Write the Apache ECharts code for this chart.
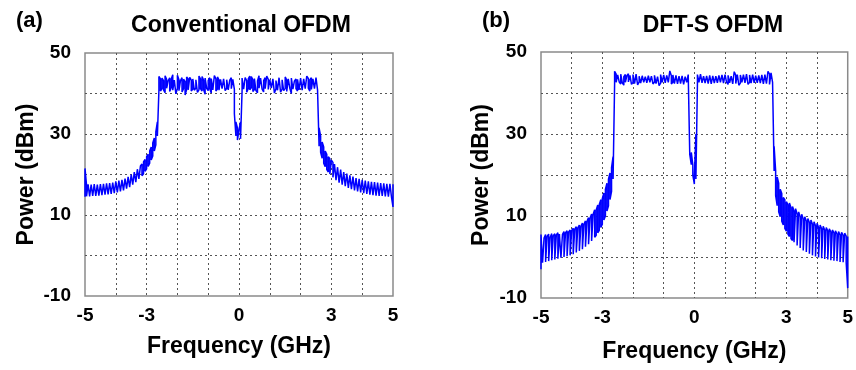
<!DOCTYPE html>
<html>
<head>
<meta charset="utf-8">
<script src="https://cdn.jsdelivr.net/npm/echarts@6/dist/echarts.min.js"></script>
<style>
html,body{margin:0;padding:0;background:#fff;}
#chart{width:856px;height:370px;}
</style>
</head>
<body>
<div id="chart"></div>
<script>
// Frequency samples (GHz)
const freq = [
-5,-4.95,-4.9,-4.85,-4.8,-4.75,-4.7,-4.65,-4.6,-4.55,
-4.5,-4.45,-4.4,-4.35,-4.3,-4.25,-4.2,-4.15,-4.1,-4.05,
-4,-3.95,-3.9,-3.85,-3.8,-3.75,-3.7,-3.65,-3.6,-3.55,
-3.5,-3.45,-3.4,-3.35,-3.3,-3.25,-3.2,-3.15,-3.1,-3.05,
-3,-2.95,-2.9,-2.85,-2.8,-2.75,-2.7,-2.65,-2.6,-2.55,
-2.5,-2.45,-2.4,-2.35,-2.3,-2.25,-2.2,-2.15,-2.1,-2.05,
-2,-1.95,-1.9,-1.85,-1.8,-1.75,-1.7,-1.65,-1.6,-1.55,
-1.5,-1.45,-1.4,-1.35,-1.3,-1.25,-1.2,-1.15,-1.1,-1.05,
-1,-0.95,-0.9,-0.85,-0.8,-0.75,-0.7,-0.65,-0.6,-0.55,
-0.5,-0.45,-0.4,-0.35,-0.3,-0.25,-0.2,-0.15,-0.1,-0.05,
0,0.05,0.1,0.15,0.2,0.25,0.3,0.35,0.4,0.45,
0.5,0.55,0.6,0.65,0.7,0.75,0.8,0.85,0.9,0.95,
1,1.05,1.1,1.15,1.2,1.25,1.3,1.35,1.4,1.45,
1.5,1.55,1.6,1.65,1.7,1.75,1.8,1.85,1.9,1.95,
2,2.05,2.1,2.15,2.2,2.25,2.3,2.35,2.4,2.45,
2.5,2.55,2.6,2.65,2.7,2.75,2.8,2.85,2.9,2.95,
3,3.05,3.1,3.15,3.2,3.25,3.3,3.35,3.4,3.45,
3.5,3.55,3.6,3.65,3.7,3.75,3.8,3.85,3.9,3.95,
4,4.05,4.1,4.15,4.2,4.25,4.3,4.35,4.4,4.45,
4.5,4.55,4.6,4.65,4.7,4.75,4.8,4.85,4.9,4.95,
5
];

// (a) Conventional OFDM: upper / lower trace excursion at each frequency (dBm)
const convUpper = [
21.5,17.4,17.6,17.3,17.5,17.2,17.6,17.4,17.5,17.3,
17.6,17.5,17.7,17.5,17.8,17.6,17.9,17.7,18.0,17.9,
18.3,18.2,18.5,18.4,18.7,18.8,19.0,19.1,19.4,19.6,
20.0,20.3,20.6,21.0,21.3,21.7,22.1,22.6,23.1,23.7,
24.4,25.0,25.8,26.8,27.8,29.0,30.5,33.0,44.2,43.6,
43.8,43.2,44.4,43.5,43.1,43.9,43.6,44.6,43.3,43.7,
44.5,43.4,43.2,43.9,43.5,43.0,44.1,43.6,44.0,43.3,
43.6,43.9,43.4,43.1,44.3,43.6,44.2,43.3,43.8,43.5,
43.2,43.9,43.7,43.4,44.4,43.6,44.1,43.3,43.5,43.9,
43.6,44.0,43.4,43.8,43.3,43.9,43.5,41.0,33.0,31.5,
31.0,33.0,43.8,43.5,43.9,43.2,43.6,44.3,44.2,43.4,
43.7,43.5,43.1,44.4,43.8,43.6,43.2,43.9,44.3,43.5,
43.4,43.8,43.6,43.9,43.2,43.5,43.9,44.0,43.4,43.7,
44.1,43.3,43.6,43.5,43.8,44.2,43.1,43.6,43.5,43.8,
43.8,43.4,43.6,43.3,44.3,43.7,43.4,43.9,43.6,43.5,
43.9,43.6,31.5,29.5,28.0,26.8,25.8,25.0,24.4,23.9,
23.5,23.0,22.6,22.2,21.8,21.5,21.2,20.9,20.6,20.4,
20.2,20.0,19.8,19.6,19.5,19.3,19.1,19.0,18.9,18.8,
18.7,18.6,18.5,18.4,18.3,18.3,18.2,18.1,18.1,18.0,
18.0,17.9,17.9,17.8,17.8,17.8,17.7,17.7,17.7,17.6,
17.6
];
const convLower = [
14.5,14.6,14.5,14.6,14.6,14.7,14.6,14.7,14.7,14.8,
14.8,14.9,14.9,15.0,15.0,15.1,15.1,15.2,15.3,15.4,
15.5,15.6,15.7,15.8,16.0,16.1,16.3,16.5,16.7,16.9,
17.2,17.5,17.8,18.1,18.5,18.9,19.3,19.7,20.2,20.8,
21.4,22.0,22.8,23.6,24.6,25.8,27.3,29.5,40.8,40.6,
41.2,40.9,40.2,41.3,41.0,40.5,41.4,40.8,41.1,39.9,
41.3,40.7,41.1,40.4,41.2,39.6,41.0,40.9,41.3,40.6,
41.1,40.8,41.4,40.3,40.9,41.2,40.6,41.0,39.8,41.3,
40.7,41.2,40.1,40.9,41.3,40.6,41.1,40.8,40.4,41.2,
41.0,40.7,41.3,40.9,40.5,41.2,40.8,35.0,29.5,28.5,
28.2,28.8,40.6,41.1,40.8,40.3,41.2,40.9,41.4,40.5,
41.0,40.7,40.2,41.3,40.9,41.1,40.4,41.2,40.8,41.0,
40.6,41.3,40.9,40.1,41.2,40.8,41.0,40.3,41.1,40.7,
41.2,40.5,40.9,41.3,40.0,41.1,40.8,41.2,40.6,40.9,
41.1,40.8,40.4,41.2,40.9,41.3,40.6,41.0,40.7,41.2,
40.8,40.9,27.0,25.5,24.0,22.8,21.9,21.2,20.6,20.1,
19.7,19.3,18.9,18.6,18.3,18.0,17.7,17.5,17.3,17.1,
16.9,16.7,16.5,16.4,16.2,16.1,15.9,15.8,15.7,15.6,
15.5,15.4,15.3,15.2,15.1,15.0,15.0,14.9,14.9,14.8,
14.8,14.7,14.7,14.7,14.6,14.6,14.6,14.5,14.5,14.5,
12.0
];

// (b) DFT-S OFDM: upper / lower trace excursion at each frequency (dBm)
const dftUpper = [
5.5,5.3,4.6,5.5,5.0,5.6,4.8,5.7,5.2,5.7,
5.4,5.9,5.6,6.0,5.5,6.2,5.9,6.4,6.1,6.6,
6.5,7.0,6.8,7.4,7.1,7.8,7.5,8.3,8.0,8.8,
8.7,9.6,9.5,10.5,10.4,11.5,11.5,12.7,12.8,14.0,
14.3,15.6,16.5,18.0,19.0,20.5,21.8,24.5,45.3,44.6,
44.4,44.1,44.6,44.3,44.0,44.5,44.2,44.7,44.3,44.1,
44.5,44.2,44.6,44.3,44.1,44.4,44.2,44.5,44.0,44.3,
44.2,44.5,44.1,44.4,44.3,44.6,44.0,44.3,44.5,44.2,
44.4,44.1,44.3,44.6,45.4,44.2,44.4,44.1,44.3,44.5,
44.1,44.4,44.2,44.5,44.0,44.3,44.5,44.2,25.5,22.5,
19.5,30.0,44.5,44.2,44.6,44.3,44.1,44.5,44.2,44.4,
44.3,44.6,44.2,44.4,44.1,44.5,44.3,44.0,44.4,44.2,
44.5,44.2,44.3,44.6,44.1,44.4,45.2,44.3,44.5,44.2,
44.4,44.1,44.5,44.3,44.6,44.2,44.4,44.0,44.5,44.3,
44.2,44.6,44.3,44.5,44.4,44.7,44.5,44.8,45.3,44.6,
44.9,44.7,27.0,21.0,19.5,18.0,16.5,15.5,14.5,14.0,
13.5,12.8,13.2,12.0,12.3,11.2,11.8,10.5,11.0,9.8,
10.4,9.3,9.8,8.8,9.4,8.4,9.0,8.0,8.6,7.6,
8.2,7.2,7.8,6.9,7.5,6.6,7.2,6.4,6.9,6.1,
6.6,5.9,6.4,5.6,6.2,5.4,6.0,5.3,5.8,5.1,
5.0
];
const dftLower = [
-3.0,-1.4,-1.3,-1.2,-1.1,-1.0,-0.9,-0.8,-0.7,-0.6,
-0.5,-0.4,-0.3,-0.2,-0.1,0.0,0.1,0.2,0.3,0.4,
0.5,0.7,0.9,1.1,1.3,1.5,1.7,1.9,2.2,2.5,
2.8,3.1,3.5,3.9,4.3,4.8,5.3,5.9,6.5,7.2,
8.0,9.0,10.0,11.2,12.5,14.0,16.0,19.0,42.3,42.6,
42.4,42.7,42.2,42.5,41.9,42.6,42.3,42.7,42.4,42.1,
42.6,42.3,42.5,42.0,42.7,42.4,42.2,42.6,42.3,42.5,
42.1,42.6,42.4,42.2,42.7,42.3,42.5,41.8,42.4,42.6,
42.3,42.5,42.1,42.6,42.4,42.2,42.7,42.3,42.5,42.2,
42.6,42.3,42.5,42.1,42.4,42.6,42.2,25.0,22.5,20.0,
17.8,19.0,42.2,42.6,42.3,42.5,42.1,42.4,42.6,42.3,
42.5,42.2,42.6,42.4,42.1,42.5,42.3,42.6,42.2,42.4,
42.3,42.6,42.1,42.5,42.4,42.2,42.6,42.3,42.5,41.9,
42.4,42.6,42.2,42.5,42.3,42.1,42.6,42.4,42.2,42.5,
42.3,42.5,42.1,42.4,42.6,42.2,42.4,42.3,42.5,42.1,
42.4,42.6,21.0,15.0,12.5,11.0,9.8,8.7,7.8,7.0,
6.3,5.6,5.0,4.5,4.0,3.6,3.2,2.8,2.5,2.2,
1.9,1.6,1.4,1.2,1.0,0.8,0.6,0.4,0.3,0.1,
0.0,-0.1,-0.2,-0.3,-0.4,-0.5,-0.6,-0.6,-0.7,-0.8,
-0.8,-0.9,-1.0,-1.0,-1.1,-1.2,-1.2,-1.3,-1.4,-1.4,
-7.6
];

const xTickLabels = [-5, -3, 0, 3, 5];
const yTickLabels = [50, 30, 10, -10];
const panelTitles = ['Conventional OFDM', 'DFT-S OFDM'];
const panelTags = ['(a)', '(b)'];

// The trace swings between its lower and upper excursion at each sample
function trace(upper, lower) {
  const out = [];
  freq.forEach((f, i) => {
    if (i % 2 === 0) { out.push([f, lower[i]], [f, upper[i]]); }
    else { out.push([f, upper[i]], [f, lower[i]]); }
  });
  return out;
}

const FONT = '"Liberation Sans", Arial, sans-serif';
const chart = echarts.init(document.getElementById('chart'), null, {renderer: 'canvas'});

function xAxisFor(gridIndex) {
  return {
    type: 'value', gridIndex, min: -5, max: 5, interval: 1,
    axisLine: {show: false}, axisTick: {show: false},
    splitLine: {show: true, showMinLine: false, showMaxLine: false,
      lineStyle: {color: '#555', width: 1, type: [2, 3]}},
    axisLabel: {
      margin: 10, color: '#000', fontFamily: FONT, fontWeight: 'bold', fontSize: 19,
      showMinLabel: true, showMaxLabel: true,
      formatter: v => xTickLabels.includes(Math.round(v * 100) / 100) ? String(v) : ''
    },
    name: 'Frequency (GHz)', nameLocation: 'middle',
    nameGap: gridIndex === 0 ? 39 : 42,
    nameTextStyle: {color: '#000', fontFamily: FONT, fontWeight: 'bold', fontSize: 23}
  };
}
function yAxisFor(gridIndex) {
  return {
    type: 'value', gridIndex, min: -10, max: 50, interval: 10,
    axisLine: {show: false}, axisTick: {show: false},
    splitLine: {show: true, showMinLine: false, showMaxLine: false,
      lineStyle: {color: '#555', width: 1, type: [2, 3]}},
    axisLabel: {
      margin: 14, color: '#000', fontFamily: FONT, fontWeight: 'bold', fontSize: 19,
      formatter: v => yTickLabels.includes(v) ? String(v) : ''
    },
    name: 'Power (dBm)', nameLocation: 'middle', nameRotate: 90,
    nameGap: gridIndex === 0 ? 47 : 48,
    nameTextStyle: {color: '#000', fontFamily: FONT, fontWeight: 'bold', fontSize: 23}
  };
}

const option = {
  backgroundColor: '#fff',
  animation: false,
  title: [
    {text: panelTags[0], left: 11, top: 5, textStyle: {fontFamily: FONT, fontWeight: 'bold', fontSize: 22, color: '#000'}},
    {text: panelTitles[0], left: 236, top: 9, textAlign: 'center', textStyle: {fontFamily: FONT, fontWeight: 'bold', fontSize: 23, color: '#000'}},
    {text: panelTags[1], left: 477, top: 5, textStyle: {fontFamily: FONT, fontWeight: 'bold', fontSize: 22, color: '#000'}},
    {text: panelTitles[1], left: 708, top: 9, textAlign: 'center', textStyle: {fontFamily: FONT, fontWeight: 'bold', fontSize: 23, color: '#000'}}
  ],
  grid: [
    {left: 85, top: 53, width: 308, height: 243, show: true, borderColor: '#8a8a8a', borderWidth: 1.5, backgroundColor: 'transparent'},
    {left: 541, top: 52, width: 313, height: 246, show: true, borderColor: '#8a8a8a', borderWidth: 1.5, backgroundColor: 'transparent'}
  ],
  xAxis: [xAxisFor(0), xAxisFor(1)],
  yAxis: [yAxisFor(0), yAxisFor(1)],
  series: [
    {type: 'line', xAxisIndex: 0, yAxisIndex: 0, showSymbol: false, sampling: null,
     lineStyle: {color: '#0000ff', width: 1.5}, data: trace(convUpper, convLower)},
    {type: 'line', xAxisIndex: 1, yAxisIndex: 1, showSymbol: false, sampling: null,
     lineStyle: {color: '#0000ff', width: 1.5}, data: trace(dftUpper, dftLower)}
  ]
};
chart.setOption(option);
</script>
</body>
</html>
